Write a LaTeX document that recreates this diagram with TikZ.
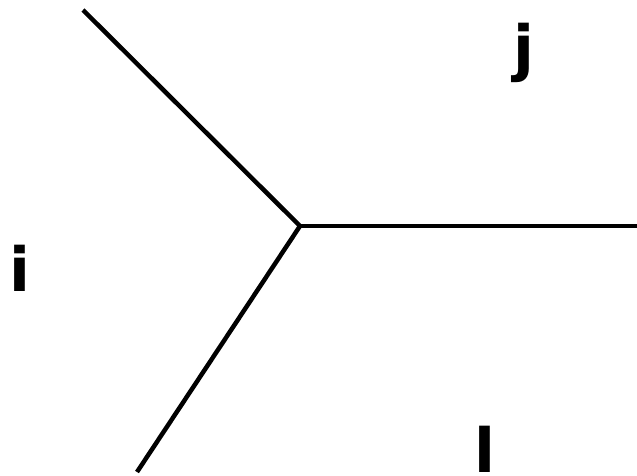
\documentclass[tikz,border=0pt]{standalone}
\usepackage{fontspec}
\setmainfont{DejaVu Sans}
\begin{document}
\begin{tikzpicture}[x=1pt,y=-1pt,
  edge/.style={line width=4.5pt},
  lbl/.style={anchor=base,inner sep=0pt,font=\fontsize{61}{61}\selectfont\bfseries}]
\useasboundingbox[fill=white] (0,0) rectangle (637,476);
\coordinate (c) at (300,226);
\coordinate (a) at (83,10);
\coordinate (b) at (640,226);
\coordinate (d) at (137,472);
\draw[edge] (a) -- (c);
\draw[edge] (c) -- (b);
\draw[edge] (c) -- (d);
\node[lbl] (j) at (524,70) {j};
\node[lbl] (i) at (20,291) {i};
\node[lbl] (l) at (485,472) {l};
\end{tikzpicture}
\end{document}
